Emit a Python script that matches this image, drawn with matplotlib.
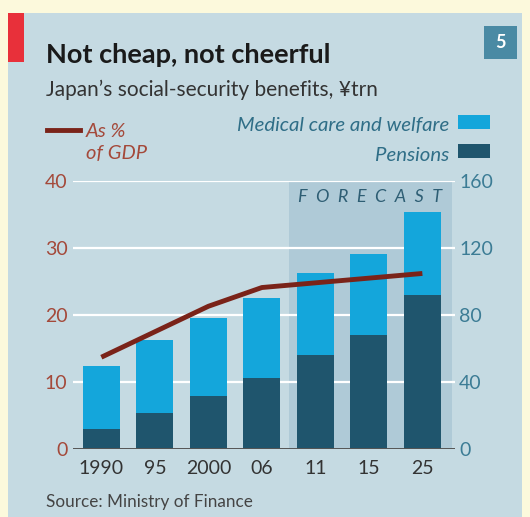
import matplotlib
matplotlib.use("Agg")
import matplotlib.pyplot as plt
from matplotlib.patches import Rectangle
from matplotlib.lines import Line2D

# Japan's social-security benefits, ¥trn (right axis) and as % of GDP (left axis)
years = ["1990", "95", "2000", "06", "11", "15", "25"]
pensions = [11.8, 21.4, 31.9, 42.3, 56.3, 68.3, 91.8]
medical_welfare = [37.5, 43.9, 46.4, 47.9, 48.9, 47.9, 49.7]
pct_gdp = [13.7, 17.5, 21.3, 24.1, 24.8, 25.5, 26.2]
left_ticks = [0, 10, 20, 30, 40]
right_ticks = [0, 40, 80, 120, 160]

W, H = 530, 517
OUTER = "#FCF9DC"
PANEL = "#C5DAE2"
SHADE = "#AFCAD7"
LIGHT = "#14A6DB"
DARK = "#1F556D"
LINE = "#7A2319"
LEFT_TXT = "#A4493A"
RIGHT_TXT = "#3C7C95"
LEG_TXT = "#2F6E87"
FONT = "Lato"

plt.rcParams["font.family"] = [FONT, "DejaVu Sans"]

fig = plt.figure(figsize=(W / 100, H / 100), dpi=100)
fig.patch.set_facecolor(OUTER)


def px(x, y):
    return x / W, 1 - y / H


# Panel and decorations
fig.add_artist(Rectangle(px(8, 517), (522 - 8) / W, (517 - 13) / H,
                         transform=fig.transFigure, facecolor=PANEL,
                         edgecolor="none", zorder=0))
fig.add_artist(Rectangle(px(8, 62), 16 / W, 49 / H, transform=fig.transFigure,
                         facecolor="#E8303A", edgecolor="none", zorder=1))
fig.add_artist(Rectangle(px(484, 59), 33 / W, 33 / H, transform=fig.transFigure,
                         facecolor="#4A8AA4", edgecolor="none", zorder=1))
fig.text(*px(500.5, 42.5), "5", color="white", fontsize=13, fontweight="bold",
         ha="center", va="center")

fig.text(*px(46, 63), "Not cheap, not cheerful", fontsize=19.5, fontweight="bold",
         color="#1A1A1A", ha="left", va="baseline")
fig.text(*px(46, 96), "Japan\u2019s social-security benefits, \u00a5trn", fontsize=15,
         color="#333333", ha="left", va="baseline")
fig.text(*px(46, 507), "Source: Ministry of Finance", fontsize=12.3,
         color="#444444", ha="left", va="baseline")

# Legend
fig.add_artist(Line2D([47 / W, 80 / W], [1 - 130 / H, 1 - 130 / H],
                      transform=fig.transFigure, color=LINE, lw=3.5))
fig.text(*px(86, 137), "As %", fontsize=14.5, style="italic", color=LEFT_TXT,
         ha="left", va="baseline")
fig.text(*px(86, 159), "of GDP", fontsize=14.5, style="italic", color=LEFT_TXT,
         ha="left", va="baseline")
fig.text(*px(449, 131), "Medical care and welfare", fontsize=14.7, style="italic",
         color=LEG_TXT, ha="right", va="baseline")
fig.text(*px(449, 161), "Pensions", fontsize=14.7, style="italic",
         color=LEG_TXT, ha="right", va="baseline")
fig.add_artist(Rectangle(px(458, 129), 32 / W, 14 / H, transform=fig.transFigure,
                         facecolor=LIGHT, edgecolor="none"))
fig.add_artist(Rectangle(px(458, 158), 32 / W, 14 / H, transform=fig.transFigure,
                         facecolor=DARK, edgecolor="none"))

# Axes: bars on the ¥trn scale, line on the % of GDP scale
left, right, top, bottom = 73, 455, 181, 449
ax = fig.add_axes([left / W, 1 - bottom / H, (right - left) / W, (bottom - top) / H])
ax.set_facecolor("none")
ax2 = ax.twinx()

x = list(range(len(years)))
ax.set_xlim(-0.53, 6.61)
ax.set_ylim(0, 160)

ax.axvspan(3.5, 6.55, ymin=0, ymax=0.995, color=SHADE, lw=0, zorder=0)
for t in right_ticks[1:]:
    ax.axhline(t, color="white", lw=1.6, zorder=1)
ax.axhline(0, color="#555555", lw=1.4, zorder=4)

ax.bar(x, pensions, width=0.69, color=DARK, zorder=2)
ax.bar(x, medical_welfare, width=0.69, bottom=pensions, color=LIGHT, zorder=2)

ax.text(5.02, 150.5, "F  O  R  E  C  A  S  T", fontsize=13, style="italic",
        color="#2E5E74", ha="center", va="center", zorder=3)

for s in ax.spines.values():
    s.set_visible(False)
ax.set_xticks(x)
ax.set_xticklabels(years)
ax.tick_params(axis="x", length=0, labelsize=14, labelcolor="#333333", pad=8)

# ¥trn scale on the right
ax.set_yticks(right_ticks)
ax.set_yticklabels([str(t) for t in right_ticks])
ax.tick_params(axis="y", which="both", left=False, labelleft=False,
               right=True, labelright=True, colors=RIGHT_TXT, labelsize=14,
               length=0, pad=3)

# % of GDP scale on the left
ax2.set_ylim(0, 40)
ax2.plot(x, pct_gdp, color=LINE, lw=3.5, solid_capstyle="butt", zorder=5)
for s in ax2.spines.values():
    s.set_visible(False)
ax2.set_yticks(left_ticks)
ax2.set_yticklabels([str(t) for t in left_ticks])
ax2.tick_params(axis="y", which="both", left=True, labelleft=True,
                right=False, labelright=False, colors=LEFT_TXT, labelsize=14,
                length=0, pad=4)

fig.savefig("out.png", dpi=100, facecolor=OUTER)
